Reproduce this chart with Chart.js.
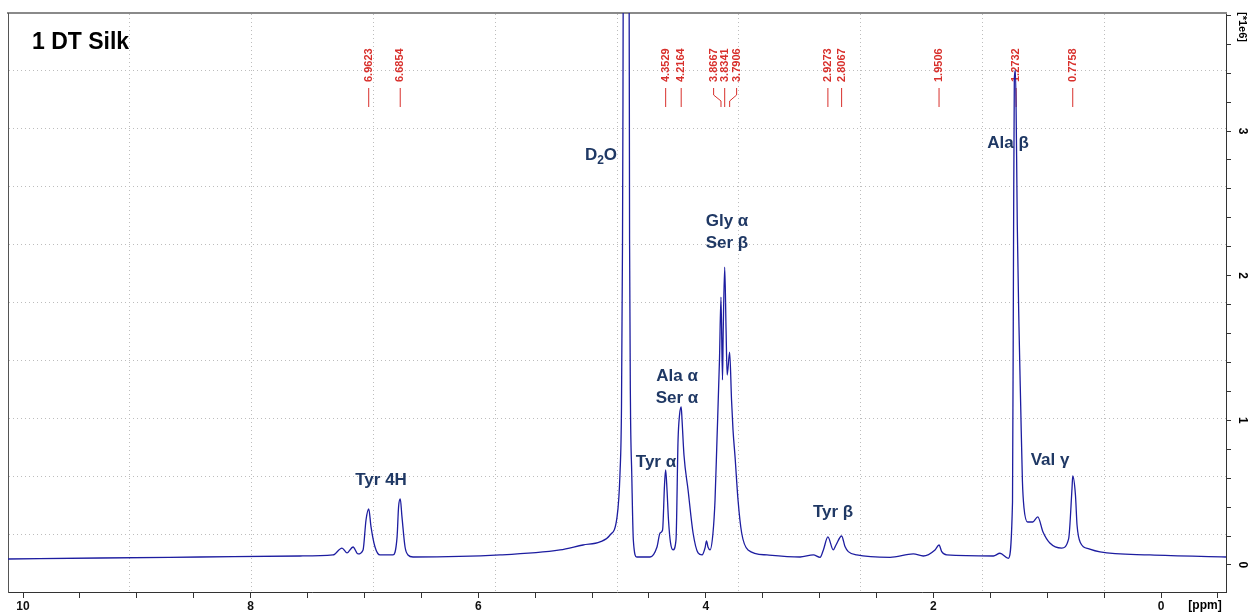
<!DOCTYPE html>
<html>
<head>
<meta charset="utf-8">
<title>1 DT Silk</title>
<script src="https://cdn.jsdelivr.net/npm/chart.js@4.4.1/dist/chart.umd.min.js"></script>
<style>
  html, body { margin: 0; padding: 0; background: #fff; }
  #wrap { width: 1250px; height: 615px; }
</style>
</head>
<body>
<div id="wrap"><canvas id="spec" width="1250" height="615"></canvas></div>
<script>
// ---------- data ----------
// chemical shift (ppm) and intensity (x 1e6)
const shiftPpm = [
  10.132, 9.323, 8.445, 7.566, 7.276, 7.197, 7.153, 7.100, 7.056, 7.012,
  6.986, 6.962, 6.942, 6.907, 6.863, 6.749, 6.713, 6.700, 6.685, 6.670,
  6.643, 6.617, 6.573, 5.808, 5.281, 5.079, 4.930, 4.842, 4.780, 4.754,
  4.741, 4.732, 4.728, 4.722, 4.701, 4.678, 4.672, 4.670, 4.662, 4.651,
  4.637, 4.607, 4.490, 4.429, 4.402, 4.380, 4.363, 4.3529, 4.341, 4.328,
  4.310, 4.288, 4.262, 4.244, 4.231, 4.2164, 4.209, 4.192, 4.156, 4.112,
  4.068, 4.033, 4.007, 3.994, 3.981, 3.963, 3.937, 3.919, 3.902, 3.880,
  3.8667, 3.8535, 3.847, 3.8341, 3.822, 3.8125, 3.7906, 3.774, 3.761, 3.743,
  3.717, 3.685, 3.629, 3.462, 3.172, 3.055, 2.996, 2.967, 2.9273, 2.880,
  2.856, 2.8067, 2.777, 2.748, 2.674, 2.381, 2.177, 2.089, 1.986, 1.9506,
  1.927, 1.883, 1.473, 1.415, 1.342, 1.305, 1.296, 1.289, 1.279, 1.269,
  1.263, 1.248, 1.233, 1.218, 1.204, 1.172, 1.127, 1.083, 1.037, 0.977,
  0.873, 0.812, 0.782, 0.7758, 0.752, 0.738, 0.707, 0.633, 0.536, 0.097,
  -0.571,
];
const intensity = [
  0.041, 0.048, 0.055, 0.062, 0.069, 0.117, 0.083, 0.124, 0.076, 0.104,
  0.311, 0.387, 0.263, 0.124, 0.069, 0.069, 0.194, 0.401, 0.456, 0.332,
  0.124, 0.069, 0.055, 0.069, 0.104, 0.138, 0.159, 0.207, 0.332, 0.636,
  1.092, 2.246, 3.214, 5.5, 9.0, 5.5, 3.214, 2.246, 1.092, 0.636,
  0.173, 0.055, 0.055, 0.124, 0.221, 0.242, 0.553, 0.657, 0.518, 0.311,
  0.152, 0.104, 0.173, 0.864, 1.037, 1.092, 1.002, 0.760, 0.518, 0.221,
  0.083, 0.069, 0.117, 0.166, 0.124, 0.104, 0.221, 0.449, 0.864, 1.417,
  1.852, 1.279, 1.624, 2.059, 1.624, 1.313, 1.472, 1.140, 0.933, 0.746,
  0.449, 0.221, 0.104, 0.069, 0.055, 0.069, 0.053, 0.104, 0.194, 0.104,
  0.138, 0.200, 0.127, 0.092, 0.069, 0.053, 0.076, 0.062, 0.104, 0.138,
  0.092, 0.069, 0.062, 0.081, 0.046, 0.435, 2.211, 3.366, 3.42, 2.827,
  2.350, 1.645, 1.099, 0.581, 0.394, 0.297, 0.297, 0.332, 0.228, 0.152,
  0.117, 0.180, 0.532, 0.615, 0.484, 0.276, 0.152, 0.111, 0.090, 0.069,
  0.055,
];

// picked peaks (red labels on top)
const peakPpm = [6.9623, 6.6854, 4.3529, 4.2164, 3.8667, 3.8341, 3.7906, 2.9273, 2.8067, 1.9506, 1.2732, 0.7758];

// assignments (blue labels)
const assignText = ["D₂O", "Gly α\nSer β", "Ala α\nSer α", "Tyr α", "Tyr 4H", "Tyr β", "Ala β", "Val γ"];
const assignPpm = [4.921, 3.814, 4.253, 4.438, 6.854, 2.882, 1.344, 0.975];
const assignInt = [2.833, 2.298, 1.227, 0.712, 0.587, 0.366, 2.916, 0.726];

// visible window
const xMin = -0.571, xMax = 10.132;
const yMin = -0.187, yMax = 3.816;

const FONT = "'Liberation Sans', Arial, sans-serif";
const NAVY = "#1f3864";
const RED = "#d8302c";

// ---------- helpers ----------
function evenGrid(axis) {
  // 10 equal divisions, like the plot program's grid
  const t = [];
  for (let k = 1; k < 10; k++) t.push({ value: axis.min + (k * (axis.max - axis.min)) / 10 });
  axis.ticks = t;
}

function spreadLabels(xs, gap) {
  const out = xs.slice();
  let i = 0;
  while (i < xs.length) {
    let j = i;
    while (j + 1 < xs.length && xs[j + 1] - xs[j] < gap) j++;
    const n = j - i + 1;
    if (n > 1) {
      let mean = 0;
      for (let k = i; k <= j; k++) mean += xs[k];
      mean /= n;
      for (let k = i; k <= j; k++) out[k] = mean + (k - i - (n - 1) / 2) * gap;
    }
    i = j + 1;
  }
  return out;
}

function drawSubText(ctx, txt, cx, cy) {
  // handles the subscript two in D2O
  const parts = txt.split("₂");
  if (parts.length === 1) {
    ctx.textAlign = "center";
    ctx.fillText(txt, cx, cy);
    return;
  }
  const big = "bold 17px " + FONT, small = "bold 12px " + FONT;
  ctx.font = big;
  const w1 = ctx.measureText(parts[0]).width;
  const w3 = ctx.measureText(parts[1]).width;
  ctx.font = small;
  const w2 = ctx.measureText("2").width;
  let x = cx - (w1 + w2 + w3) / 2;
  ctx.textAlign = "left";
  ctx.font = big;
  ctx.fillText(parts[0], x, cy);
  ctx.font = small;
  ctx.fillText("2", x + w1, cy + 6);
  ctx.font = big;
  ctx.fillText(parts[1], x + w1 + w2, cy);
}

// ---------- annotations plugin ----------
const annotations = {
  id: "annotations",
  beforeDatasetsDraw(chart) {
    const { ctx, chartArea } = chart;
    const xs = chart.scales.x;
    const px = peakPpm.map((p) => xs.getPixelForValue(p));
    const lx = spreadLabels(px, 11.5);
    const top = chartArea.top;
    ctx.save();
    ctx.fillStyle = RED;
    ctx.strokeStyle = RED;
    ctx.lineWidth = 1;
    ctx.font = "bold 11px " + FONT;
    px.forEach((p, i) => {
      ctx.save();
      ctx.translate(lx[i], top + 69);
      ctx.rotate(-Math.PI / 2);
      ctx.textAlign = "left";
      ctx.textBaseline = "middle";
      ctx.fillText(peakPpm[i].toFixed(4), 0, 0);
      ctx.restore();
      ctx.beginPath();
      if (Math.abs(lx[i] - p) > 0.5) {
        ctx.moveTo(lx[i], top + 75);
        ctx.lineTo(lx[i], top + 82);
        ctx.lineTo(p, top + 88);
        ctx.lineTo(p, top + 94);
      } else {
        ctx.moveTo(p, top + 75);
        ctx.lineTo(p, top + 94);
      }
      ctx.stroke();
    });
    ctx.restore();
  },
  afterDraw(chart) {
    const { ctx, chartArea } = chart;
    const xs = chart.scales.x;
    const ys = chart.scales.y;
    ctx.save();

    // assignments
    ctx.fillStyle = NAVY;
    ctx.textBaseline = "middle";
    assignText.forEach((t, i) => {
      const cx = xs.getPixelForValue(assignPpm[i]);
      const cy = ys.getPixelForValue(assignInt[i]);
      const lines = t.split("\n");
      lines.forEach((ln, k) => {
        ctx.font = "bold 17px " + FONT;
        drawSubText(ctx, ln, cx, cy + (k - (lines.length - 1) / 2) * 22);
      });
    });

    // sample name
    ctx.fillStyle = "#000";
    ctx.font = "bold 23px " + FONT;
    ctx.textAlign = "left";
    ctx.textBaseline = "alphabetic";
    ctx.fillText("1 DT Silk", chartArea.left + 24, chartArea.top + 36);

    // right axis labels, turned
    ctx.font = "bold 12px " + FONT;
    ctx.textAlign = "center";
    ctx.textBaseline = "middle";
    ys.ticks.forEach((t) => {
      if (!Number.isInteger(Math.round(t.value * 1000) / 1000)) return;
      const y = ys.getPixelForValue(t.value);
      ctx.save();
      ctx.translate(chartArea.right + 16, y);
      ctx.rotate(Math.PI / 2);
      ctx.fillText(String(Math.round(t.value)), 0, 0);
      ctx.restore();
    });
    ctx.save();
    ctx.font = "bold 11px " + FONT;
    ctx.translate(chartArea.right + 16, chartArea.top + 14);
    ctx.rotate(Math.PI / 2);
    ctx.fillText("[*1e6]", 0, 0);
    ctx.restore();

    // x unit
    ctx.font = "bold 12px " + FONT;
    ctx.fillText("[ppm]", chartArea.right - 21, chartArea.bottom + 14);
    ctx.restore();
  },
};

// ---------- chart ----------
const points = shiftPpm.map((p, i) => ({ x: p, y: intensity[i] }));

new Chart(document.getElementById("spec"), {
  type: "line",
  data: {
    datasets: [{
      data: points,
      borderColor: "#1d1da0",
      borderWidth: 1.3,
      pointRadius: 0,
      fill: false,
      cubicInterpolationMode: "monotone",
      xAxisID: "x",
      yAxisID: "y",
    }],
  },
  options: {
    responsive: false,
    animation: false,
    devicePixelRatio: 1,
    events: [],
    layout: { padding: { left: 8, top: 13, right: 0, bottom: 0 } },
    plugins: { legend: { display: false }, tooltip: { enabled: false } },
    scales: {
      x: {
        type: "linear",
        position: "bottom",
        reverse: true,
        min: xMin,
        max: xMax,
        afterBuildTicks: (axis) => {
          const t = [];
          for (let i = Math.ceil(xMin * 2); i <= Math.floor(xMax * 2); i++) t.push({ value: i / 2 });
          axis.ticks = t;
        },
        afterFit: (s) => { s.height = 23; },
        ticks: {
          autoSkip: false,
          maxRotation: 0,
          padding: 1,
          color: "#111",
          font: { family: FONT, size: 12, weight: "bold" },
          callback: (v) => (Number.isInteger(v) && v % 2 === 0 ? String(v) : ""),
        },
        grid: { drawOnChartArea: false, tickLength: 6, tickColor: "#333" },
        border: { color: "#333", width: 1 },
      },
      y: {
        type: "linear",
        position: "right",
        min: yMin,
        max: yMax,
        afterBuildTicks: (axis) => {
          const t = [];
          for (let i = Math.ceil(yMin * 5); i <= Math.floor(yMax * 5); i++) t.push({ value: i / 5 });
          axis.ticks = t;
        },
        afterFit: (s) => { s.width = 24; },
        ticks: { display: false },
        grid: { drawOnChartArea: false, tickLength: 5, tickColor: "#333" },
        border: { color: "#333", width: 1 },
      },
      xg: {
        type: "linear",
        position: "top",
        min: xMin,
        max: xMax,
        afterBuildTicks: evenGrid,
        afterFit: (s) => { s.height = 0; },
        ticks: { display: false },
        grid: { drawTicks: false, color: "#bdbdbd", lineWidth: 1 },
        border: { color: "#8a8a8a", width: 2, dash: [1, 3] },
      },
      yg: {
        type: "linear",
        position: "left",
        min: yMin,
        max: yMax,
        afterBuildTicks: evenGrid,
        afterFit: (s) => { s.width = 0; },
        ticks: { display: false },
        grid: { drawTicks: false, color: "#bdbdbd", lineWidth: 1 },
        border: { color: "#555", width: 1, dash: [1, 3] },
      },
    },
  },
  plugins: [annotations],
});
</script>
</body>
</html>
